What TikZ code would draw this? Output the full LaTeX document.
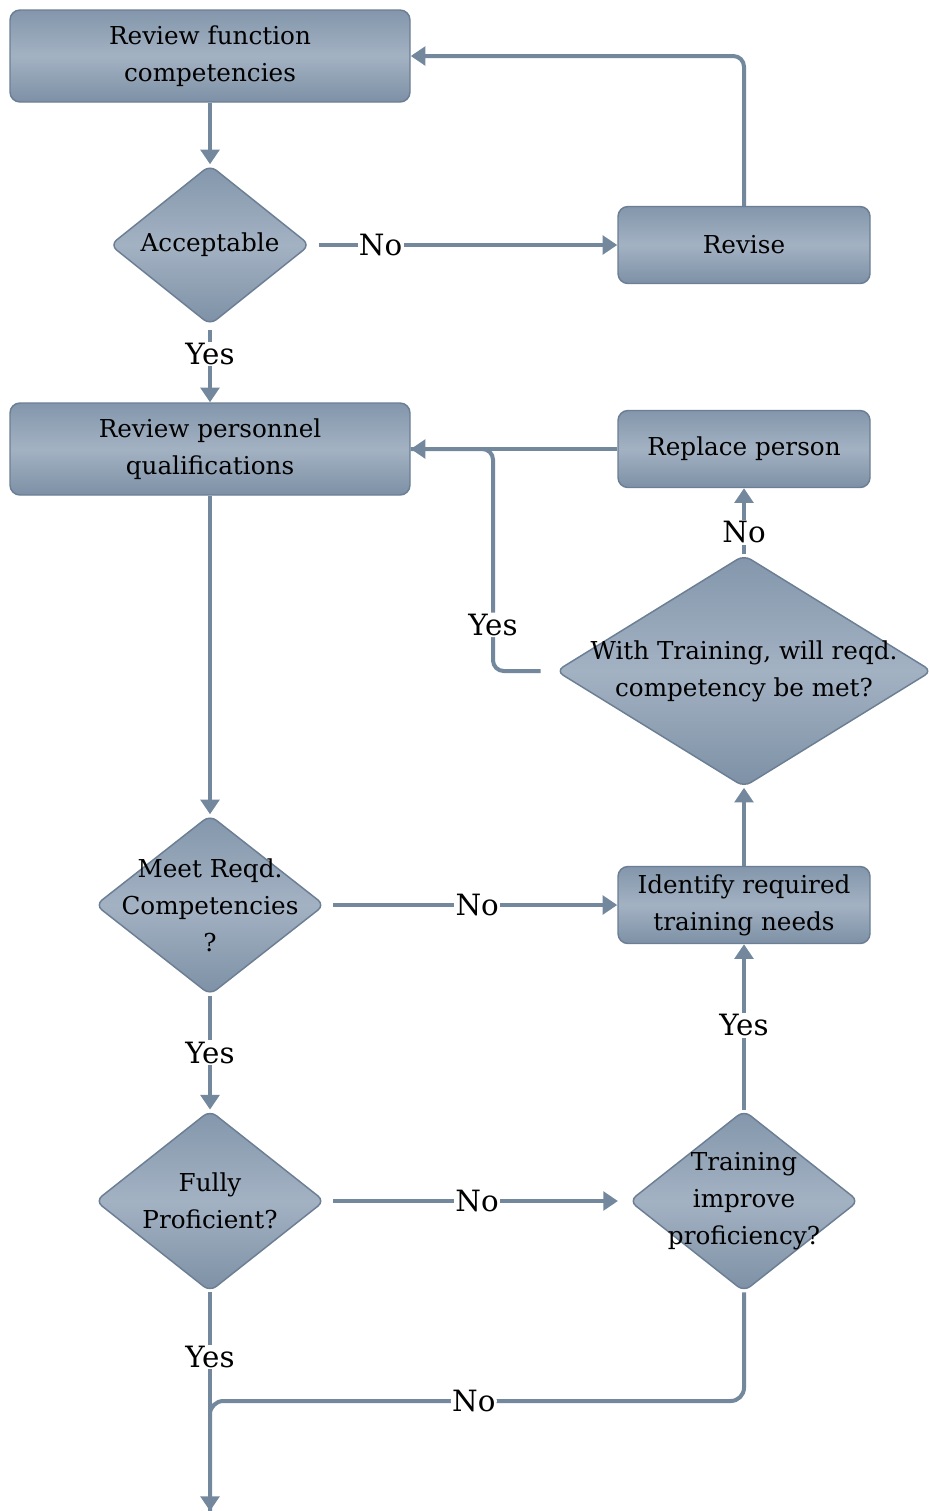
\documentclass[tikz,border=0pt]{standalone}
\usepackage{fontspec}
\setmainfont{DejaVu Serif}
\usetikzlibrary{shapes.geometric,arrows.meta}
\definecolor{shtop}{HTML}{8396AB}
\definecolor{shmid}{HTML}{A3B2C3}
\definecolor{shbot}{HTML}{7D90A5}
\definecolor{bord}{HTML}{6B7E93}
\definecolor{lcol}{HTML}{73879D}
\newcommand{\nodefont}{\fontsize{18.5pt}{27.75pt}\selectfont}
\newcommand{\labfont}{\fontsize{22pt}{24pt}\selectfont}
\tikzset{
  box/.style={rectangle, rounded corners=7.5pt, draw=bord, line width=1.1pt,
    top color=shtop, bottom color=shbot, middle color=shmid,
    align=center, font=\nodefont, inner sep=0pt},
  dia/.style={diamond, rounded corners=6pt, draw=bord, line width=1.1pt,
    top color=shtop, bottom color=shbot, middle color=shmid, inner sep=0pt},
  diatext/.style={label={[align=center, font=\nodefont, inner sep=0pt, fill=none, draw=none]center:#1}},
  conn/.style={draw=lcol, line width=3pt, -{Triangle[width=14pt,length=11pt]}},
  plain/.style={draw=lcol, line width=3pt},
  lab/.style={fill=white, inner sep=1pt, font=\labfont, text=black}
}
\begin{document}
\begin{tikzpicture}[x=0.75pt,y=-0.75pt]
\useasboundingbox (0,0) rectangle (929,1511);
% nodes
\node[box, minimum width=300pt, minimum height=69pt] (rf) at (210,56) {Review function\\competencies};
\node[dia, minimum width=150pt, minimum height=120pt, diatext={Acceptable}] (acc) at (210,245) {};
\node[box, minimum width=189pt, minimum height=57.75pt] (rev) at (744,245) {Revise};
\node[box, minimum width=300pt, minimum height=69pt] (rp) at (210,449) {Review personnel\\qualifications};
\node[box, minimum width=189pt, minimum height=57.75pt] (repl) at (744,449) {Replace person};
\node[dia, minimum width=282pt, minimum height=174pt, diatext={With Training, will reqd.\\competency be met?}] (wt) at (744,671) {};
\node[dia, minimum width=172pt, minimum height=135pt, diatext={Meet Reqd.\\Competencies\\?}] (meet) at (210,905) {};
\node[box, minimum width=189pt, minimum height=57.75pt] (ident) at (744,905) {Identify required\\training needs};
\node[dia, minimum width=172pt, minimum height=136pt, diatext={Fully\\Proficient?}] (fp) at (210,1201) {};
\node[dia, minimum width=172pt, minimum height=136pt, diatext={Training\\improve\\proficiency?}] (ti) at (744,1201) {};
\coordinate (j1) at (493,449);
\coordinate (j2) at (210,1401);
\coordinate (end) at (210,1511);
% connectors
\draw[conn] (rf.south) -- (acc.north);
\draw[conn, shorten <=6pt] (acc.east) -- node[lab, pos=0.228]{No} (rev.west);
\draw[conn, rounded corners=8pt] (rev.north) |- (rf.east);
\draw[conn, shorten <=3pt] (acc.south) -- node[lab, pos=0.37]{Yes} (rp.north);
\draw[conn] (repl.west) -- (rp.east);
\draw[plain, rounded corners=8pt, shorten <=11pt] (wt.west) -| node[lab, pos=0.604]{Yes} (j1) -- (rp.east);
\draw[conn] (wt.north) -- node[lab, pos=0.33]{No} (repl.south);
\draw[conn] (rp.south) -- (meet.north);
\draw[conn, shorten <=6pt] (meet.east) -- node[lab, pos=0.52]{No} (ident.west);
\draw[conn] (ident.north) -- (wt.south);
\draw[conn] (meet.south) -- node[lab, pos=0.5]{Yes} (fp.north);
\draw[conn, shorten <=6pt, shorten >=8pt] (fp.east) -- node[lab, pos=0.5]{No} (ti.west);
\draw[conn] (ti.north) -- node[lab, pos=0.51]{Yes} (ident.south);
\draw[conn] (fp.south) -- node[lab, pos=0.295]{Yes} (end);
\draw[plain, rounded corners=10pt] (ti.south) |- node[lab, pos=0.753]{No} (j2) -- (end);
\end{tikzpicture}
\end{document}
